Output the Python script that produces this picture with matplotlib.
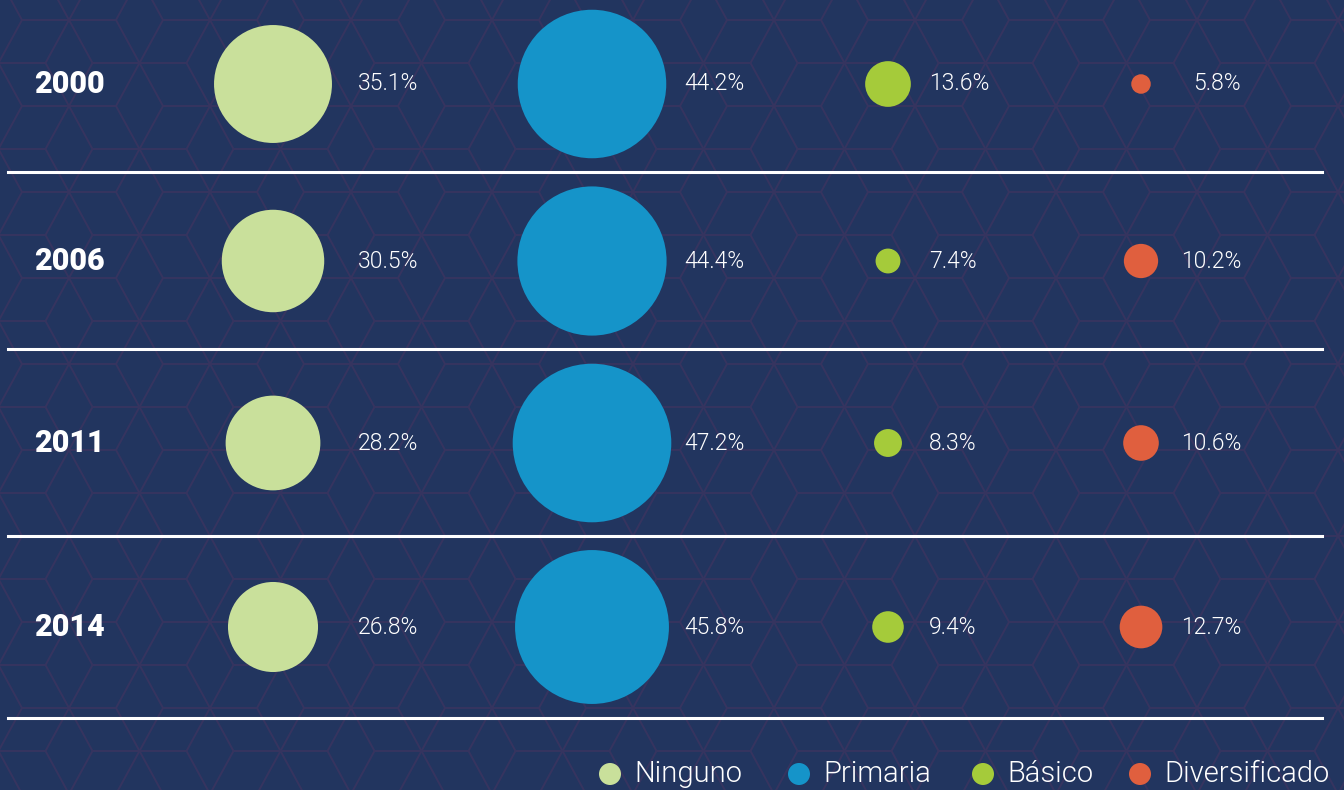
import matplotlib
matplotlib.use("Agg")
import matplotlib.pyplot as plt
from matplotlib.patches import Circle
from matplotlib.collections import LineCollection

# data
years = ["2000", "2006", "2011", "2014"]
categories = ["Ninguno", "Primaria", "Básico", "Diversificado"]
ninguno = [35.1, 30.5, 28.2, 26.8]
primaria = [44.2, 44.4, 47.2, 45.8]
basico = [13.6, 7.4, 8.3, 9.4]
diversificado = [5.8, 10.2, 10.6, 12.7]

colors = ["#c9e09b", "#1594c9", "#a5cb3a", "#e05f3e"]
BG = "#22355f"
PATTERN = "#36345f"

W, H = 1344, 790
row_y = [84, 261, 443, 627]
col_x = [273, 592, 888, 1141]
# (x, horizontal alignment) for the value labels of each column
label_pos = [(418, "right"), (684, "left"), (929, "left"), (1241, "right")]
px_per_pct = 1.68  # circle radius in px per percentage point


def cube_pattern(a=47.0, h=43.0, x0=22.0, y0=20.0):
    """Tumbling-blocks background: triangular lattice minus non-spoke edges."""
    spokes = {(1, 0), (-1, 1), (0, -1)}

    def is_center(q, r):
        return (q - r) % 3 == 0

    segs = []
    for r in range(-2, int(H / h) + 3):
        for q in range(-r // 2 - 4, int(W / a) - r // 2 + 5):
            p = (x0 + a * (q + r / 2), y0 + h * r)
            for dq, dr in [(1, 0), (0, 1), (-1, 1)]:
                q2, r2 = q + dq, r + dr
                if is_center(q, r) and (dq, dr) not in spokes:
                    continue
                if is_center(q2, r2) and (-dq, -dr) not in spokes:
                    continue
                p2 = (x0 + a * (q2 + r2 / 2), y0 + h * r2)
                segs.append([p, p2])
    return segs


fig = plt.figure(figsize=(13.44, 7.9), dpi=100)
fig.patch.set_facecolor(BG)
ax = fig.add_axes([0, 0, 1, 1])
ax.set_facecolor(BG)
ax.set_xlim(0, W)
ax.set_ylim(H, 0)
ax.set_aspect("equal")
ax.axis("off")

ax.add_collection(LineCollection(cube_pattern(), colors=PATTERN, linewidths=1.4, zorder=0))

series = [ninguno, primaria, basico, diversificado]
for i, year in enumerate(years):
    y = row_y[i]
    ax.text(34, y, year, color="white", fontsize=22, fontweight=900,
            family="Roboto", va="center", ha="left", zorder=3)
    for j, values in enumerate(series):
        v = values[i]
        ax.add_patch(Circle((col_x[j], y), v * px_per_pct, color=colors[j],
                            lw=0, zorder=2))
        lx, ha = label_pos[j]
        ax.text(lx, y, f"{v:.1f}%", color="white", fontsize=16.5,
                fontweight=300, family="Roboto", va="center", ha=ha, zorder=3)

for y in [172, 349, 536, 718]:
    ax.plot([8, 1322], [y, y], color="white", lw=2.2, zorder=1)

# legend
leg_x = [610, 799, 983, 1140]
for j, name in enumerate(categories):
    ax.add_patch(Circle((leg_x[j], 774), 11, color=colors[j], lw=0, zorder=2))
    ax.text(leg_x[j] + 24, 774, name, color="white", fontsize=21,
            fontweight=300, family="Roboto", va="center", ha="left", zorder=3)

fig.savefig("out.png", dpi=100, facecolor=BG)
